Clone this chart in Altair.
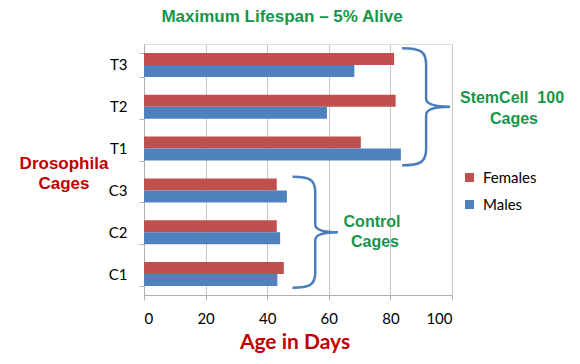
import altair as alt
import pandas as pd

# ---- data ----
cages = ["T3", "T2", "T1", "C3", "C2", "C1"]
females = [81.2, 81.7, 70.4, 43.1, 43.1, 45.4]
males = [68.3, 59.4, 83.4, 46.4, 44.2, 43.3]
series = ["Females", "Males"]
colors = ["#C0504D", "#4F81BD"]
x_ticks = [0, 20, 40, 60, 80, 100]

rows = []
for c, f, m in zip(cages, females, males):
    rows.append({"cage": c, "sex": "Females", "age": f})
    rows.append({"cage": c, "sex": "Males", "age": m})
df = pd.DataFrame(rows)

W, H = 308, 251
GREEN = "#15964A"
DARKRED = "#C00000"
BRACE = "#4A7EBB"
LABEL_FONT = "Lato"

y_enc = alt.Y(
    "cage:N",
    scale=alt.Scale(domain=cages, paddingInner=0.426, paddingOuter=0.213),
    axis=alt.Axis(
        title=None, domainColor="#B0B0B0", tickColor="#B0B0B0", tickSize=5,
        tickBand="extent", labelFontSize=15, labelFont=LABEL_FONT,
        labelColor="#000000", labelPadding=12, grid=False,
    ),
)
x_enc = alt.X(
    "age:Q",
    scale=alt.Scale(domain=[0, 100], nice=False),
    axis=alt.Axis(
        title=None, values=x_ticks, domainColor="#B0B0B0", tickColor="#B0B0B0",
        tickSize=5, gridColor="#C8C8C8", grid=True, labelFontSize=15,
        labelFont=LABEL_FONT, labelColor="#000000", labelPadding=11,
    ),
)

bars = alt.Chart(df).mark_bar().encode(
    y=y_enc,
    x=x_enc,
    yOffset=alt.YOffset("sex:N", scale=alt.Scale(domain=series)),
    color=alt.Color(
        "sex:N",
        scale=alt.Scale(domain=series, range=colors),
        legend=alt.Legend(
            title=None, orient="none", legendX=318, legendY=126, padding=0,
            symbolType="square", symbolSize=81, symbolStrokeWidth=0,
            labelFontSize=15, labelFont=LABEL_FONT, labelColor="#000000",
            labelOffset=6, rowPadding=11,
        ),
    ),
)

BRACE_PATH = (
    "M -0.41 -1 C -0.1 -1 0 -0.95 0 -0.72 L 0 -0.14 "
    "C 0 -0.04 0.15 0 0.41 0 C 0.15 0 0 0.04 0 0.14 "
    "L 0 0.72 C 0 0.95 -0.1 1 -0.41 1"
)

stem_brace = alt.Chart(pd.DataFrame({"cage": ["T2"], "age": [91.6]})).mark_point(
    shape=BRACE_PATH, filled=False, size=13689, stroke=BRACE, strokeWidth=2.5, opacity=1
).encode(y="cage:N", x="age:Q")

ctrl_brace = alt.Chart(pd.DataFrame({"cage": ["C2"], "age": [55.6]})).mark_point(
    shape=BRACE_PATH, filled=False, size=12321, stroke=BRACE, strokeWidth=2.5, opacity=1
).encode(y="cage:N", x="age:Q")

one = pd.DataFrame({"k": [0]})


def label(text, x, y, size, color, font="Liberation Sans", weight="bold",
          baseline="middle"):
    return alt.Chart(one).mark_text(
        text=text, font=font, fontSize=size, fontWeight=weight, color=color,
        align="center", baseline=baseline,
    ).encode(x=alt.value(x), y=alt.value(y))


texts = [
    label("Maximum Lifespan \u2013 5% Alive", 138, -27, 17, GREEN),
    label("Age in Days", 151, 305, 21, DARKRED, font="Lato", baseline="alphabetic"),
    label("Drosophila", -80, 120, 17, DARKRED),
    label("Cages", -80, 140, 17, DARKRED),
    label("StemCell\u00a0\u00a0100", 368, 54, 16, GREEN),
    label("Cages", 370, 75, 16, GREEN),
    label("Control", 228, 178, 16, GREEN),
    label("Cages", 231, 198, 16, GREEN),
]

chart = alt.layer(bars, stem_brace, ctrl_brace, *texts).properties(
    width=W, height=H,
    autosize=alt.AutoSizeParams(type="none"),
    padding={"left": 136, "top": 36, "right": 120, "bottom": 66},
).configure_view(stroke=None).configure(background="white")

chart.save("out.html", embed_options={"renderer": "svg", "actions": False})
